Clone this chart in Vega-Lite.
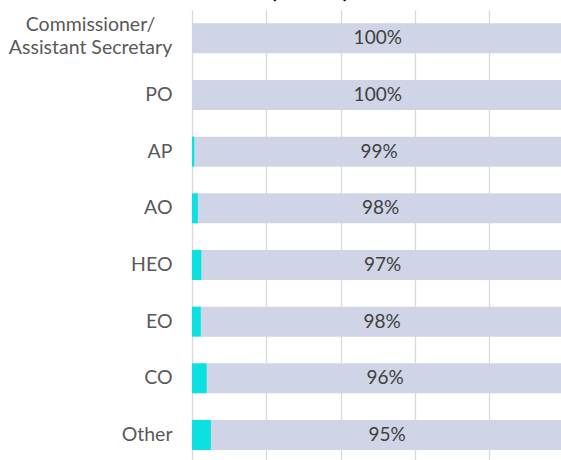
{
  "$schema": "https://vega.github.io/schema/vega-lite/v6.json",
  "autosize": "none",
  "width": 371.5,
  "height": 453.3,
  "padding": {"left": 192, "top": 10, "right": 0, "bottom": 0},
  "background": "white",
  "title": {
    "text": "(2019)",
    "fontSize": 28,
    "fontWeight": "bold",
    "font": "Lato",
    "color": "#000000",
    "anchor": "middle",
    "dx": -68,
    "dy": 21,
    "offset": 0,
    "baseline": "bottom"
  },
  "config": {"view": {"stroke": null}},
  "data": {
    "values": [
      {"grade": "Commissioner/Assistant Secretary", "series": "Indigenous", "value": 0.0},
      {"grade": "Commissioner/Assistant Secretary", "series": "Non-Indigenous", "value": 1.0},
      {"grade": "PO", "series": "Indigenous", "value": 0.0},
      {"grade": "PO", "series": "Non-Indigenous", "value": 1.0},
      {"grade": "AP", "series": "Indigenous", "value": 0.007},
      {"grade": "AP", "series": "Non-Indigenous", "value": 0.993},
      {"grade": "AO", "series": "Indigenous", "value": 0.016},
      {"grade": "AO", "series": "Non-Indigenous", "value": 0.984},
      {"grade": "HEO", "series": "Indigenous", "value": 0.026},
      {"grade": "HEO", "series": "Non-Indigenous", "value": 0.974},
      {"grade": "EO", "series": "Indigenous", "value": 0.024},
      {"grade": "EO", "series": "Non-Indigenous", "value": 0.976},
      {"grade": "CO", "series": "Indigenous", "value": 0.04},
      {"grade": "CO", "series": "Non-Indigenous", "value": 0.96},
      {"grade": "Other", "series": "Indigenous", "value": 0.051},
      {"grade": "Other", "series": "Non-Indigenous", "value": 0.949}
    ]
  },
  "encoding": {
    "y": {
      "field": "grade",
      "type": "nominal",
      "sort": ["Commissioner/Assistant Secretary", "PO", "AP", "AO", "HEO", "EO", "CO", "Other"],
      "scale": {"paddingInner": 0.47, "paddingOuter": 0.235},
      "axis": {
        "title": null,
        "domain": false,
        "ticks": false,
        "grid": false,
        "labelPadding": {"condition": {"test": "datum.value === 'Commissioner/Assistant Secretary'", "value": 102}, "value": 20},
        "labelAlign": {"condition": {"test": "datum.value === 'Commissioner/Assistant Secretary'", "value": "center"}, "value": "right"},
        "labelFont": "Lato",
        "labelFontSize": 19.5,
        "labelColor": "#595959",
        "labelLineHeight": 23,
        "labelOffset": {"condition": {"test": "datum.value === 'Commissioner/Assistant Secretary'", "value": -13}, "value": 0},
        "labelExpr": "datum.label === 'Commissioner/Assistant Secretary' ? ['Commissioner/', 'Assistant Secretary'] : datum.label"
      }
    },
    "x": {
      "field": "value",
      "type": "quantitative",
      "stack": "zero",
      "scale": {"domain": [0, 1], "nice": false},
      "axis": {
        "title": null,
        "labels": false,
        "ticks": false,
        "domain": false,
        "grid": true,
        "gridColor": "#D9D9D9",
        "gridWidth": 1.3,
        "values": [0, 0.2, 0.4, 0.6, 0.8, 1]
      }
    },
    "color": {
      "field": "series",
      "type": "nominal",
      "scale": {"domain": ["Indigenous", "Non-Indigenous"], "range": ["#0DE0E0", "#CFD5E6"]},
      "legend": null
    }
  },
  "layer": [
    {"mark": {"type": "bar"}},
    {
      "mark": {"type": "text", "font": "Lato", "fontSize": 19, "color": "#404040"},
      "encoding": {
        "x": {"field": "value", "type": "quantitative", "stack": "zero", "bandPosition": 0.5},
        "text": {"field": "value", "type": "quantitative", "format": ".0%"},
        "color": {"value": "#404040"},
        "detail": {"field": "series", "type": "nominal"},
        "opacity": {"condition": {"test": "datum.series === 'Indigenous'", "value": 0}, "value": 1}
      }
    }
  ]
}
